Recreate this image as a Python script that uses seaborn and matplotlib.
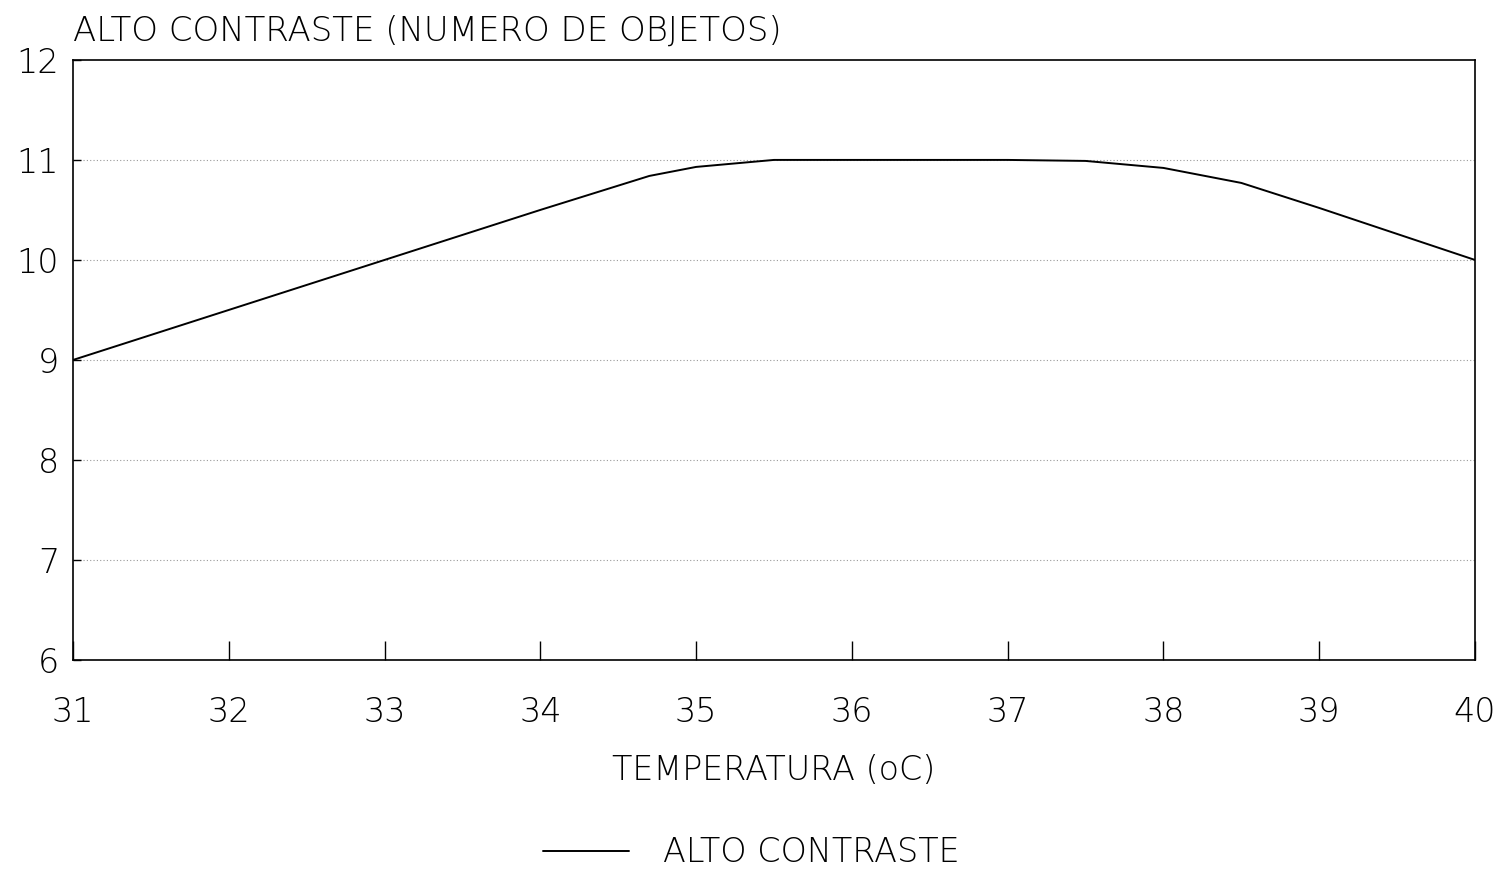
import matplotlib
matplotlib.use("Agg")
import matplotlib.pyplot as plt
import seaborn as sns
import pandas as pd

temperatura = [31, 32, 33, 34, 34.7, 35, 35.5, 36, 37, 37.5, 38, 38.5, 39, 39.5, 40]
objetos = [9, 9.5, 10, 10.5, 10.84, 10.93, 11, 11, 11, 10.99, 10.92, 10.77, 10.52, 10.26, 10]
xticks = [31, 32, 33, 34, 35, 36, 37, 38, 39, 40]
yticks = [6, 7, 8, 9, 10, 11, 12]
serie = "ALTO CONTRASTE"

sns.set_theme(style="white")
plt.rcParams['font.family'] = ['DejaVu Sans']
plt.rcParams['text.color'] = 'black'
plt.rcParams['xtick.color'] = 'black'
plt.rcParams['ytick.color'] = 'black'
plt.rcParams['axes.labelcolor'] = 'black'

df = pd.DataFrame({"x": temperatura, "y": objetos, "s": serie})

fig = plt.figure(figsize=(15.02, 8.94), dpi=100)
ax = fig.add_axes([0.0486, 0.2617, 0.9334, 0.6713])
sns.lineplot(data=df, x="x", y="y", hue="s", palette=["black"], linewidth=1.4, ax=ax, legend=False)

ax.set_xlim(31, 40)
ax.set_ylim(6, 12)
ax.set_xticks(xticks)
ax.set_yticks(yticks)
ax.set_xticklabels([str(t) for t in xticks], fontsize=24, fontweight='light')
ax.set_yticklabels([str(t) for t in yticks], fontsize=24, fontweight='light')
ax.tick_params(axis='x', bottom=True, direction='in', length=14, width=1, pad=26, colors='black')
ax.tick_params(axis='y', left=True, direction='in', length=6, width=1, pad=10, colors='black')
for sp in ax.spines.values():
    sp.set_color('black')
    sp.set_linewidth(1.2)

for yv in yticks[1:-1]:
    ax.axhline(yv, color='#999999', linestyle=(0, (1, 2)), linewidth=0.8, zorder=0)

ax.set_xlabel("TEMPERATURA (oC)", fontsize=24, fontweight='light', labelpad=18)
ax.set_ylabel("")
ax.text(0.0, 1.02, "ALTO CONTRASTE (NUMERO DE OBJETOS)", transform=ax.transAxes,
        fontsize=24.5, fontweight='light', ha='left', va='bottom')

from matplotlib.lines import Line2D
h = [Line2D([0], [0], color='black', linewidth=1.4)]
leg = fig.legend(h, [serie], loc='center', bbox_to_anchor=(0.5, 0.046), frameon=False,
           fontsize=24, handlelength=2.6, handletextpad=1.0)
for t in leg.get_texts():
    t.set_fontweight('light')
    t.set_color('black')

fig.savefig("out.png", dpi=100)
